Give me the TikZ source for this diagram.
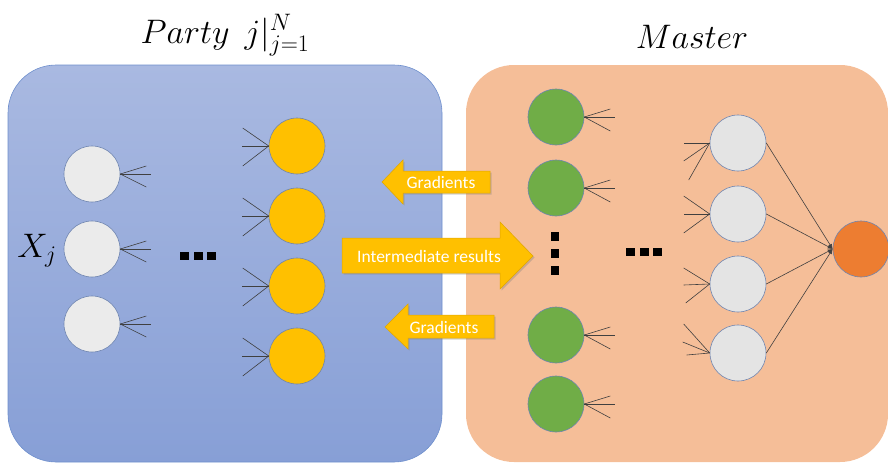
\documentclass[tikz,border=0pt]{standalone}
\usepackage{fix-cm}
\usepackage{fontspec}
\newfontfamily\calfont{Carlito}
\usetikzlibrary{arrows.meta,shadows}

\definecolor{partyTop}{HTML}{A9B9E1}
\definecolor{partyBot}{HTML}{879FD6}
\definecolor{partyEdge}{HTML}{6E8FCD}
\definecolor{masterFill}{HTML}{F5BE98}
\definecolor{greyA}{HTML}{EBEBEB}
\definecolor{greyB}{HTML}{E4E4E4}
\definecolor{neuronEdge}{HTML}{6F85B0}
\definecolor{gold}{HTML}{FFC000}
\definecolor{goldEdge}{HTML}{E0A600}
\definecolor{leaf}{HTML}{70AD47}
\definecolor{flame}{HTML}{ED7D31}

\tikzset{
  neuron/.style={circle, minimum size=56pt, inner sep=0pt, draw=neuronEdge, line width=0.6pt},
  fan/.style={draw=black!75, line width=0.6pt},
  dotsq/.style={fill=black, minimum width=9pt, minimum height=8pt, inner sep=0pt},
  vdotsq/.style={fill=black, minimum width=8pt, minimum height=9pt, inner sep=0pt},
  flowarrow/.style={fill=gold, draw=goldEdge, line width=0.5pt,
    drop shadow={opacity=0.35, shadow xshift=1.5pt, shadow yshift=-1.5pt}},
  flowtext/.style={text=white, font=\calfont\fontsize{17.5}{20}\selectfont, inner sep=0pt},
  title/.style={inner sep=0pt, anchor=base}
}

\begin{document}
\begin{tikzpicture}[x=1pt,y=-1pt]
\useasboundingbox (0,0) rectangle (888,463);

% the two parties
\path[draw=partyEdge, line width=0.6pt, top color=partyTop, bottom color=partyBot,
      rounded corners=48pt] (8,65) rectangle (442,462);
\path[fill=masterFill, rounded corners=48pt] (466,65) rectangle (888,462);

% titles
\node[title] (partyTitle) at (225,43) {\fontsize{34}{40}\selectfont $Party\;\,j|_{j=1}^{N}$};
\node[title] (masterTitle) at (692,48) {\fontsize{34}{40}\selectfont $Master$};

% party side: input layer
\node[neuron, fill=greyA] (l1) at (92,174) {};
\node[neuron, fill=greyA] (l2) at (92,249) {};
\node[neuron, fill=greyA] (l3) at (92,324) {};
\foreach \n in {l1,l2,l3}{
  \draw[fan] (\n.east) -- ++(26,-8);
  \draw[fan] (\n.east) -- ++(31,0);
  \draw[fan] (\n.east) -- ++(26,13);
}
\node[inner sep=0pt] (xj) at (37,251) {\fontsize{34}{40}\selectfont $X_j$};

% party side: hidden dots
\node[dotsq] (hd1) at (184.5,256) {};
\node[dotsq] (hd2) at (198,256) {};
\node[dotsq] (hd3) at (211.5,256) {};

% party side: output layer
\node[neuron, fill=gold] (y1) at (297,146) {};
\node[neuron, fill=gold] (y2) at (297,216) {};
\node[neuron, fill=gold] (y3) at (297,286) {};
\node[neuron, fill=gold] (y4) at (297,356) {};
\foreach \n in {y1,y2,y3,y4}{
  \draw[fan] (\n.west) -- ++(-26,-18);
  \draw[fan] (\n.west) -- ++(-27,0);
  \draw[fan] (\n.west) -- ++(-26,20);
}

% exchanged messages
\path[flowarrow] (490,171) -- (403,171) -- (403,160) -- (382,182) -- (403,204)
  -- (403,193) -- (490,193) -- cycle;
\node[flowtext] (gradTop) at (441,182) {Gradients};

\path[flowarrow] (342,238) -- (500,238) -- (500,222) -- (533,256) -- (500,289)
  -- (500,273) -- (342,273) -- cycle;
\node[flowtext] (inter) at (429,256) {Intermediate results};

\path[flowarrow] (494,315) -- (408,315) -- (408,304) -- (385,327) -- (408,349)
  -- (408,338) -- (494,338) -- cycle;
\node[flowtext] (gradBot) at (444,327) {Gradients};

% master side: receiving layer
\node[neuron, fill=leaf] (g1) at (556,117) {};
\node[neuron, fill=leaf] (g2) at (556,188) {};
\node[neuron, fill=leaf] (g3) at (556,335) {};
\node[neuron, fill=leaf] (g4) at (556,404) {};
\foreach \n in {g1,g2,g3,g4}{
  \draw[fan] (\n.east) -- ++(26,-8);
  \draw[fan] (\n.east) -- ++(31,0);
  \draw[fan] (\n.east) -- ++(26,14);
}
\node[vdotsq] (vd1) at (555,236) {};
\node[vdotsq] (vd2) at (555,253) {};
\node[vdotsq] (vd3) at (555,270) {};

\node[dotsq] (md1) at (630.5,252) {};
\node[dotsq] (md2) at (644,252) {};
\node[dotsq] (md3) at (657.5,252) {};

% master side: last hidden layer
\node[neuron, fill=greyB] (r1) at (738,143) {};
\node[neuron, fill=greyB] (r2) at (738,214) {};
\node[neuron, fill=greyB] (r3) at (738,284) {};
\node[neuron, fill=greyB] (r4) at (738,353) {};
\draw[fan] (r1.west) -- ++(-26,0);
\draw[fan] (r1.west) -- ++(-26,18);
\draw[fan] (r1.west) -- ++(-21,37);
\draw[fan] (r2.west) -- ++(-26,-18);
\draw[fan] (r2.west) -- ++(-26,0);
\draw[fan] (r2.west) -- ++(-26,19);
\draw[fan] (r3.west) -- ++(-26,-16);
\draw[fan] (r3.west) -- ++(-26,1);
\draw[fan] (r3.west) -- ++(-24,19);
\draw[fan] (r4.west) -- ++(-26,-29);
\draw[fan] (r4.west) -- ++(-27,-11);
\draw[fan] (r4.west) -- ++(-23,2);

% master output
\node[neuron, fill=flame] (out) at (861,249) {};
\foreach \n in {r1,r2,r3,r4}{
  \draw[fan, -{Latex[length=5pt,width=4pt]}] (\n.east) -- (out.west);
}
\end{tikzpicture}
\end{document}
